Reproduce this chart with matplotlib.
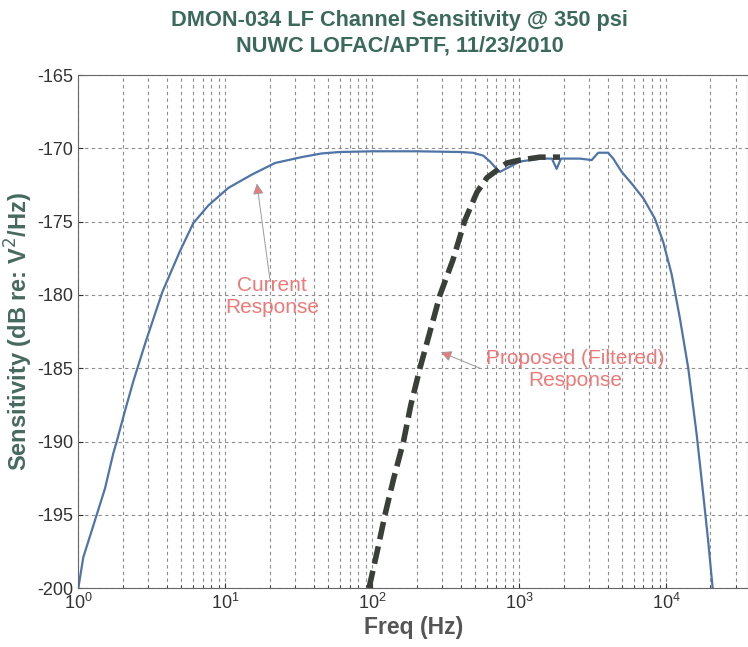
# DMON-034 LF channel sensitivity, current vs proposed (filtered) response

import numpy as np
import matplotlib.pyplot as plt

plt.rcParams['font.family'] = ['Liberation Sans', 'DejaVu Sans']
plt.rcParams['axes.unicode_minus'] = False

# current response (Hz, dB re V^2/Hz)
cur_freq = [1.0, 1.081, 1.334, 1.519, 1.730, 1.825, 2.078, 2.366, 2.873, 3.73,
            4.92, 6.06, 7.66, 10.48, 15.1, 21.8, 33.0, 45.1, 60, 100, 200, 400, 484,
            569, 632, 702, 739, 1011, 1384, 1668, 1796, 1922, 2588, 3111, 3445, 4028,
            4359, 4972, 5815, 6979, 8378, 9544, 10890, 12390, 14120, 16100, 17850,
            19300, 20690]
cur_db = [-200, -197.9, -195, -193.2, -190.8, -190, -187.9, -185.9, -183.2,
          -179.8, -177.0, -175.1, -173.9, -172.7, -171.8, -171.0, -170.6, -170.35,
          -170.25, -170.2, -170.2, -170.25, -170.3, -170.5, -170.9, -171.4, -171.6,
          -170.9, -170.7, -170.7, -171.4, -170.7, -170.7, -170.8, -170.3, -170.3,
          -170.7, -171.6, -172.4, -173.4, -174.8, -176.4, -178.6, -181.6, -185,
          -189.5, -193.6, -196.8, -200]

# proposed (filtered) response
prop_freq = [95, 108, 122, 140, 163, 183, 211, 247, 289, 354, 427, 515, 603, 705,
             824, 1011, 1384, 1892]
prop_db = [-200, -197.5, -195, -192.5, -190, -187.5, -185, -182.5, -180, -177.6,
           -174.9, -173.0, -172.0, -171.5, -171.0, -170.8, -170.6, -170.6]

fig = plt.figure(figsize=(7.48, 6.47), dpi=100)
ax = fig.add_axes([0.1047, 0.091, 0.8953, 0.793])

ax.semilogx(cur_freq, cur_db, color='#4f74a8', lw=1.6)
ax.semilogx(prop_freq, prop_db, color='#3a3f3a', lw=4.0, ls=(0, (3.2, 1.3)))

ax.set_xlim(1, 36000)
ax.set_ylim(-200, -165)
ax.set_yticks(np.arange(-200, -164, 5))

ax.grid(which='major', color='#8c8c8c', ls=(0, (3, 3)), lw=0.8)
ax.grid(which='minor', axis='x', color='#8c8c8c', ls=(0, (3, 3)), lw=0.8)
ax.tick_params(which='both', direction='in', labelsize=13, colors='#333333')
for s in ax.spines.values():
    s.set_color('#666666')

ax.set_title("DMON-034 LF Channel Sensitivity @ 350 psi\nNUWC LOFAC/APTF, 11/23/2010",
             fontsize=15.7, fontweight='bold', color='#3b6a5c', pad=17,
             linespacing=1.25, x=0.48)
ax.set_xlabel("Freq (Hz)", fontsize=16.5, fontweight='bold', color='#555555',
              labelpad=2)
ax.set_ylabel("Sensitivity (dB re: V$^2$/Hz)", fontsize=17, fontweight='bold',
              color='#466a60', labelpad=2)

ann_color = '#f07878'
arrow = dict(arrowstyle='-|>', color='#9a9a9a', lw=0.7, mutation_scale=16,
             fc=ann_color, shrinkA=0, shrinkB=0)

ax.text(20.8, -180.1, "Current\nResponse", ha='center', va='center',
        fontsize=15, color=ann_color)
ax.annotate("", xy=(16.4, -172.4), xytext=(20.1, -178.9), arrowprops=arrow)

ax.text(2393, -185.1, "Proposed (Filtered)\nResponse", ha='center', va='center',
        fontsize=15, color=ann_color)
ax.annotate("", xy=(293, -183.9), xytext=(541, -185.0), arrowprops=arrow)

fig.savefig("out.png", dpi=100)
